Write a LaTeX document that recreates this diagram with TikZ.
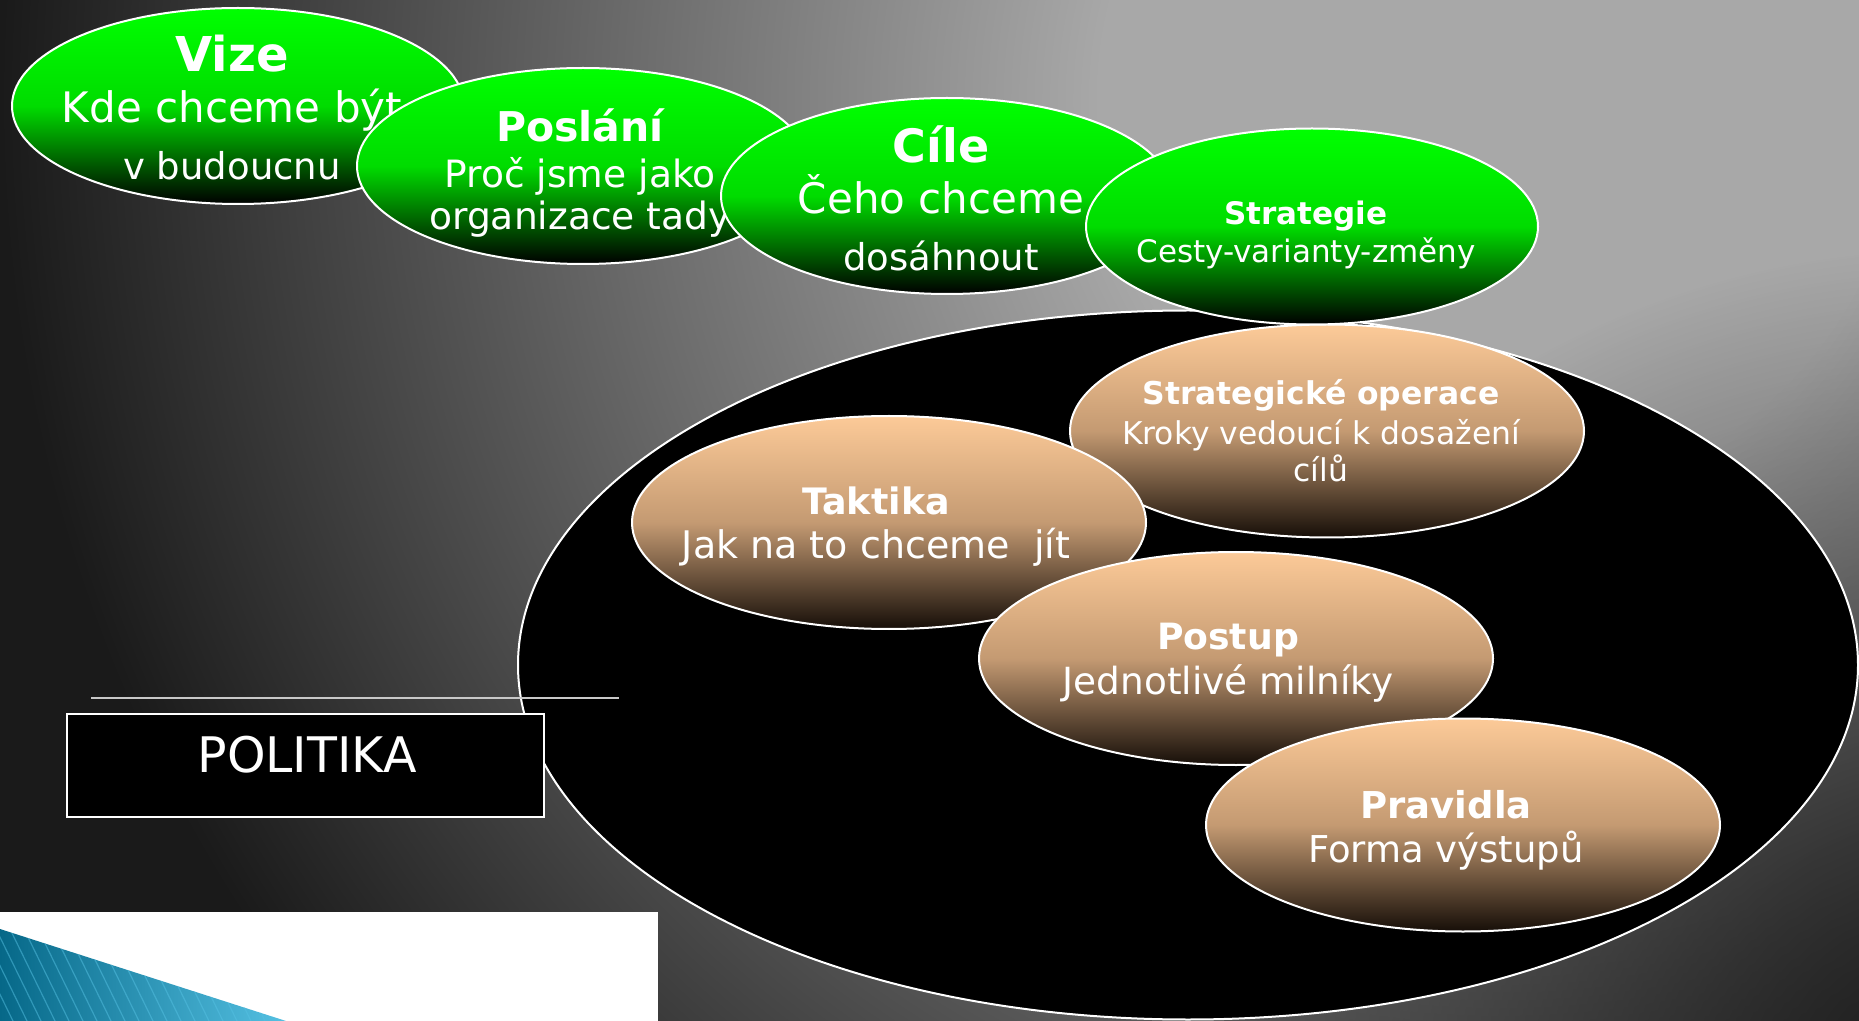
\documentclass[tikz,border=0pt]{standalone}
\usepackage{fontspec}
\setmainfont{DejaVu Sans}
\usetikzlibrary{shapes.geometric,fadings}

\definecolor{bglight}{RGB}{168,168,168}
\definecolor{bgdark}{RGB}{26,26,26}
\definecolor{ballgreen}{RGB}{0,255,0}
\definecolor{ballgreenmid}{RGB}{0,220,0}
\definecolor{peach}{RGB}{252,202,152}
\definecolor{peachmid}{RGB}{196,154,114}
\definecolor{peachdark}{RGB}{22,14,8}
\definecolor{tealdark}{RGB}{6,104,136}
\definecolor{teallight}{RGB}{84,192,226}
\definecolor{rulegray}{RGB}{200,200,200}

\pgfdeclareradialshading{slideglow}{\pgfpoint{0bp}{0bp}}{color(0bp)=(bglight); color(5bp)=(bglight); color(18.75bp)=(bgdark); color(50bp)=(bgdark)}
\tikzfading[name=cornerfade, inner color=transparent!0, outer color=transparent!100]

\tikzset{
  greenball/.style={ellipse, draw=white, line width=1pt, inner sep=0pt,
    minimum width=226pt, minimum height=98pt,
    top color=ballgreen, bottom color=black, middle color=ballgreenmid},
  peachball/.style={ellipse, draw=white, line width=1pt, inner sep=0pt,
    minimum width=257pt, minimum height=106.5pt,
    top color=peach, bottom color=peachdark, middle color=peachmid},
  bigoval/.style={ellipse, draw=white, line width=1pt, fill=black, inner sep=0pt,
    minimum width=670pt, minimum height=354.5pt},
  balltext/.style={text=white, align=center, inner sep=0pt},
  politbox/.style={draw=white, line width=1pt, fill=black, inner sep=0pt,
    minimum width=238.5pt, minimum height=51.5pt}
}

\begin{document}
\begin{tikzpicture}[x=0.5pt, y=-0.5pt]
  \useasboundingbox (0,0) rectangle (1859,1021);
  % slide background
  \begin{scope}
    \clip (0,0) rectangle (1859,1021);
    \shade[shading=slideglow] (1500,100) circle (2000);
    \fill[bgdark, path fading=cornerfade] (1950,1100) circle (850);
  \end{scope}

  \node[bigoval] (politicsarea) at (1188,665) {};

  \node[peachball] (operace) at (1327,431) {};
  \node[balltext, font=\fontsize{15.7}{18.5}\selectfont] (operacetext) at (1321,431)
    {\textbf{Strategické operace}\\[1.5pt]Kroky vedoucí k dosažení\\cílů};
  \node[peachball] (taktika) at (889,522.5) {};
  \node[balltext, font=\fontsize{19}{22}\selectfont] (taktikatext) at (876,527)
    {{\bfseries\fontsize{18.2}{22}\selectfont Taktika}\\Jak na to chceme\ \ jít};
  \node[peachball] (postup) at (1236,658.5) {};
  \node[balltext, font=\fontsize{18.7}{22.5}\selectfont] (postuptext) at (1228,663)
    {{\bfseries\fontsize{18.1}{22.5}\selectfont Postup}\\Jednotlivé milníky};
  \node[peachball] (pravidla) at (1463,825) {};
  \node[balltext, font=\fontsize{18.5}{22}\selectfont] (pravidlatext) at (1446,830)
    {\textbf{Pravidla}\\Forma výstupů};

  \node[greenball] (vize) at (238,106) {};
  \node[balltext, font=\fontsize{21}{25.5}\selectfont] (vizetext) at (232,108)
    {{\bfseries\fontsize{24}{25.5}\selectfont Vize}\\Kde chceme být\\[3pt]{\fontsize{18.5}{25.5}\selectfont v budoucnu}};
  \node[greenball] (poslani) at (583,166) {};
  \node[balltext, font=\fontsize{18.8}{21}\selectfont] (poslanitext) at (580,173)
    {{\bfseries\fontsize{20.5}{21}\selectfont Poslání}\\[2pt]Proč jsme jako\\organizace tady};
  \node[greenball] (cile) at (947,196) {};
  \node[balltext, font=\fontsize{21}{25.5}\selectfont] (ciletext) at (941,198)
    {{\bfseries\fontsize{23}{25.5}\selectfont Cíle}\\Čeho chceme\\[3pt]{\fontsize{18.5}{25.5}\selectfont dosáhnout}};
  \node[greenball] (strategie) at (1312,226.5) {};
  \node[balltext, font=\fontsize{15.5}{19}\selectfont] (strategietext) at (1306,235)
    {\textbf{Strategie}\\Cesty-varianty-změny};

  \draw[rulegray, line width=1pt] (91,698) -- (619,698);
  \node[politbox] (politika) at (305.5,765.5) {};
  \node[text=white, inner sep=0pt, anchor=base, font=\fontsize{24.5}{28}\selectfont] (politikatext) at (307,772) {POLITIKA};

  % corner of the next slide
  \fill[white] (0,912) rectangle (658,1021);
  \begin{scope}
    \clip (0,929) -- (286,1021) -- (0,1021) -- cycle;
    \shade[left color=tealdark, right color=teallight] (0,929) rectangle (286,1021);
    \foreach \s in {-60,-46,...,290}
      \draw[teallight, line width=0.6pt, opacity=0.5] (\s,929) -- ++(45,92);
  \end{scope}
\end{tikzpicture}
\end{document}
